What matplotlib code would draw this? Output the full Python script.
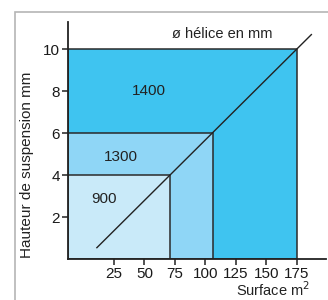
import matplotlib.pyplot as plt
from matplotlib.patches import Rectangle

plt.rcParams['font.family'] = ['Liberation Sans', 'DejaVu Sans']

# zones: propeller diameter, max surface (m2), max height (m)
helice_mm = [1400, 1300, 900]
surface_max = [175, 106, 71]
hauteur_max = [10, 6, 4]
zone_colors = ['#3fc4f0', '#8fd6f6', '#c9eaf9']
label_pos = [(54, 8.0), (31, 4.85), (17, 2.85)]

# diagonal guide line
diag_x = [11, 187]
diag_y = [0.54, 10.7]

x_ticks = [25, 50, 75, 100, 125, 150, 175]
y_ticks = [2, 4, 6, 8, 10]

x_min, x_max = -12.7, 199
y_max = 11.3


def main():
    fig = plt.figure(figsize=(3.28, 3.0), dpi=100)
    fig.patches.append(Rectangle((15 / 328, -0.1), 1.2, (300 - 12) / 300 + 0.1,
                                 transform=fig.transFigure, fill=False,
                                 edgecolor='#b5b5b5', linewidth=1.2))
    ax = fig.add_axes([68 / 328, 41 / 300, 258 / 328, 237 / 300])

    for s, h, c in zip(surface_max, hauteur_max, zone_colors):
        ax.add_patch(Rectangle((x_min, 0), s - x_min, h, facecolor=c,
                               edgecolor='#2a2a2a', linewidth=1.1, zorder=1))
    for txt, (lx, ly) in zip(helice_mm, label_pos):
        ax.text(lx, ly, str(txt), ha='center', va='center', fontsize=11,
                color='#222222', zorder=3)

    ax.plot(diag_x, diag_y, color='#222222', linewidth=1.0, zorder=2)
    ax.text(114, 10.75, 'ø hélice en mm', ha='center', va='center',
            fontsize=10.5, color='#222222')

    ax.set_xlim(x_min, x_max)
    ax.set_ylim(0, y_max)
    ax.set_xticks(x_ticks)
    ax.set_yticks(y_ticks)
    ax.tick_params(labelsize=11, length=4, width=1.1, color='#222222',
                   labelcolor='#1a1a1a', pad=2)
    for side in ['top', 'right']:
        ax.spines[side].set_visible(False)
    for side in ['left', 'bottom']:
        ax.spines[side].set_linewidth(1.3)
        ax.spines[side].set_color('#222222')
    ax.set_facecolor('none')

    fig.text(27 / 328, 1 - 165 / 300, 'Hauteur de suspension mm', rotation=90,
             ha='center', va='center', fontsize=11, color='#222222')
    fig.text(273 / 328, 1 - 290 / 300, 'Surface m$^2$', ha='center',
             va='center', fontsize=10.5, color='#222222')

    fig.savefig('out.png', dpi=100)


if __name__ == "__main__":
    main()
